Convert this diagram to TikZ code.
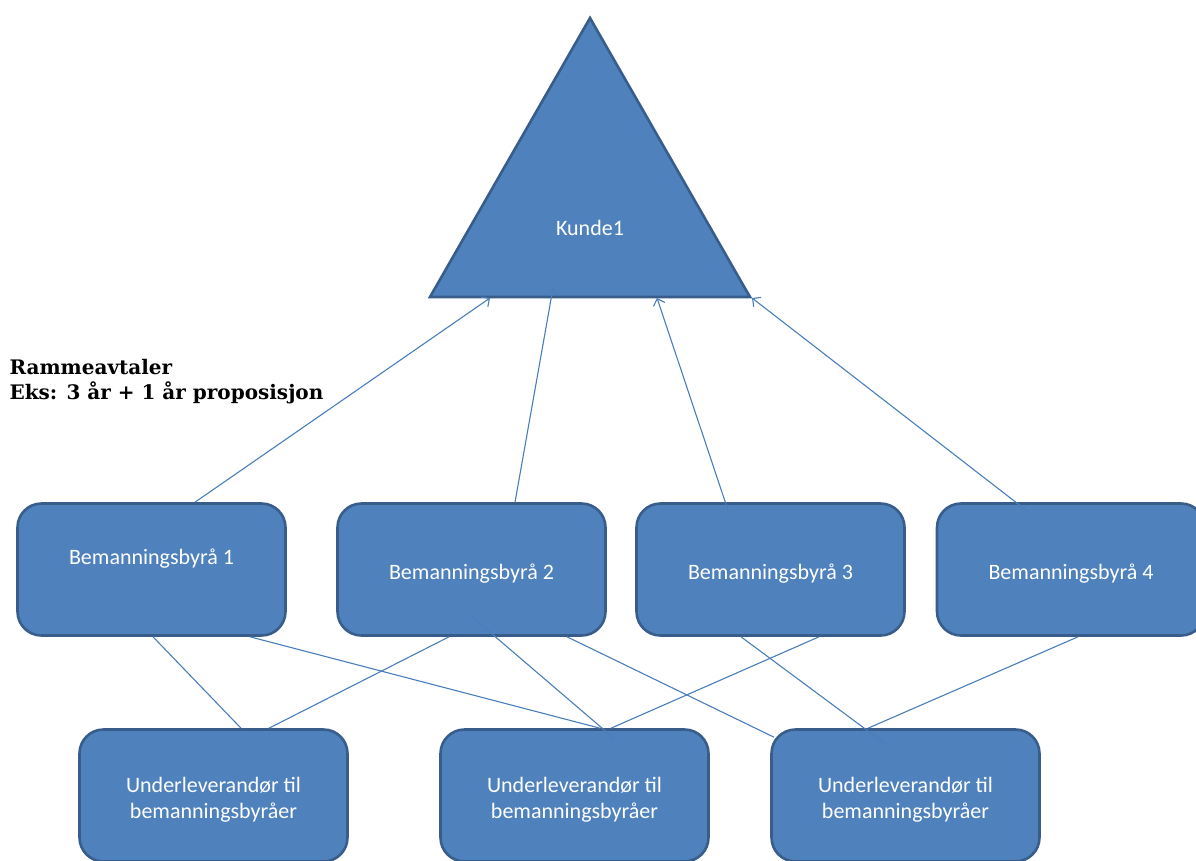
\documentclass[tikz,border=0pt]{standalone}
\usepackage{fontspec}
\setmainfont{Carlito}
\newfontfamily\titlefont{DejaVu Serif}
\usepackage{xcolor}
\usepackage{tikz}
\usetikzlibrary{arrows.meta,calc}

\definecolor{boxfill}{HTML}{4F81BD}
\definecolor{boxline}{HTML}{385D8A}
\definecolor{linkcol}{HTML}{4A7EBB}

\begin{document}
\begin{tikzpicture}[x=1pt, y=-1pt, >={Straight Barb[length=6pt, width=12pt]},
  byraa/.style={draw=boxline, fill=boxfill, line width=2.6pt, rounded corners=24pt,
    minimum width=268pt, minimum height=132pt, text=white, align=center,
    font=\fontsize{22}{26}\selectfont},
  kundetri/.style={draw=boxline, fill=boxfill, line width=2.6pt},
  link/.style={draw=linkcol, line width=1.1pt}]

% Frame
\useasboundingbox (0, 0) rectangle (1196, 860);
\clip (0, 0) rectangle (1196, 860);

% Customer triangle
\draw[kundetri] (590, 18) -- (750, 297) -- (430, 297) -- cycle;
\node[text=white, font=\fontsize{22}{26}\selectfont] (kunde) at (590, 228) {Kunde1};
\coordinate (k1) at (490, 298);
\coordinate (k2) at (553, 288);
\coordinate (k3) at (657, 298);
\coordinate (k4) at (752, 298);

% Framework text
\node[anchor=west, align=left, font=\titlefont\bfseries\fontsize{20}{25}\selectfont] (avtale) at (6, 382)
  {Rammeavtaler\\Eks: 3 år + 1 år proposisjon};

% Staffing agencies
\node[byraa, text height=25pt, text depth=35pt] (b1) at (151.5, 569.5) {Bemanningsbyrå 1};
\node[byraa, text height=25pt, text depth=5pt] (b2) at (471.5, 569.5) {Bemanningsbyrå 2};
\node[byraa, text height=25pt, text depth=5pt] (b3) at (770.5, 569.5) {Bemanningsbyrå 3};
\node[byraa, text height=25pt, text depth=5pt] (b4) at (1071, 569.5) {Bemanningsbyrå 4};

% Subcontractors
\foreach \i/\x in {1/213.5, 2/574.5, 3/905.5} {
    \node[byraa, text height=49pt] (u\i) at (\x, 795.5) {Underleverandør til\\bemanningsbyråer};
}

% Agencies to customer
\draw[link, ->] ($(b1.north)+(43.5, 0)$) -- (k1);
\draw[link, ->] ($(b2.north)+(43.5, 0)$) -- (k2);
\draw[link, ->] ($(b3.north)+(-41.5, 11)$) -- (k3);
\draw[link, ->] ($(b4.north)+(-41, 11)$) -- (k4);

% Subcontractors to agencies
\draw[link] ($(b1.south)+(1.5, 0)$) -- ($(u1.north)+(27.5, 0)$);
\draw[link] ($(b1.south)+(98.5, 0)$) -- ($(u2.north)+(25.5, 0)$);
\draw[link] ($(b2.south)+(-22.5, 0)$) -- ($(u1.north)+(55.5, 0)$);
\draw[link] ($(b2.south)+(0.5, -20)$) -- ($(u2.north)+(40.5, 11)$);
\draw[link] ($(b2.south)+(95.5, 0)$) -- ($(u3.north)+(-131.5, 9)$);
\draw[link] ($(b3.south)+(48.5, 0)$) -- ($(u2.north)+(36.5, 0)$);
\draw[link] ($(b3.south)+(-29.5, 0)$) -- ($(u3.north)+(-21, 15)$);
\draw[link] ($(b4.south)+(7, 0)$) -- ($(u3.north)+(-37.5, 0)$);

\end{tikzpicture}
\end{document}
